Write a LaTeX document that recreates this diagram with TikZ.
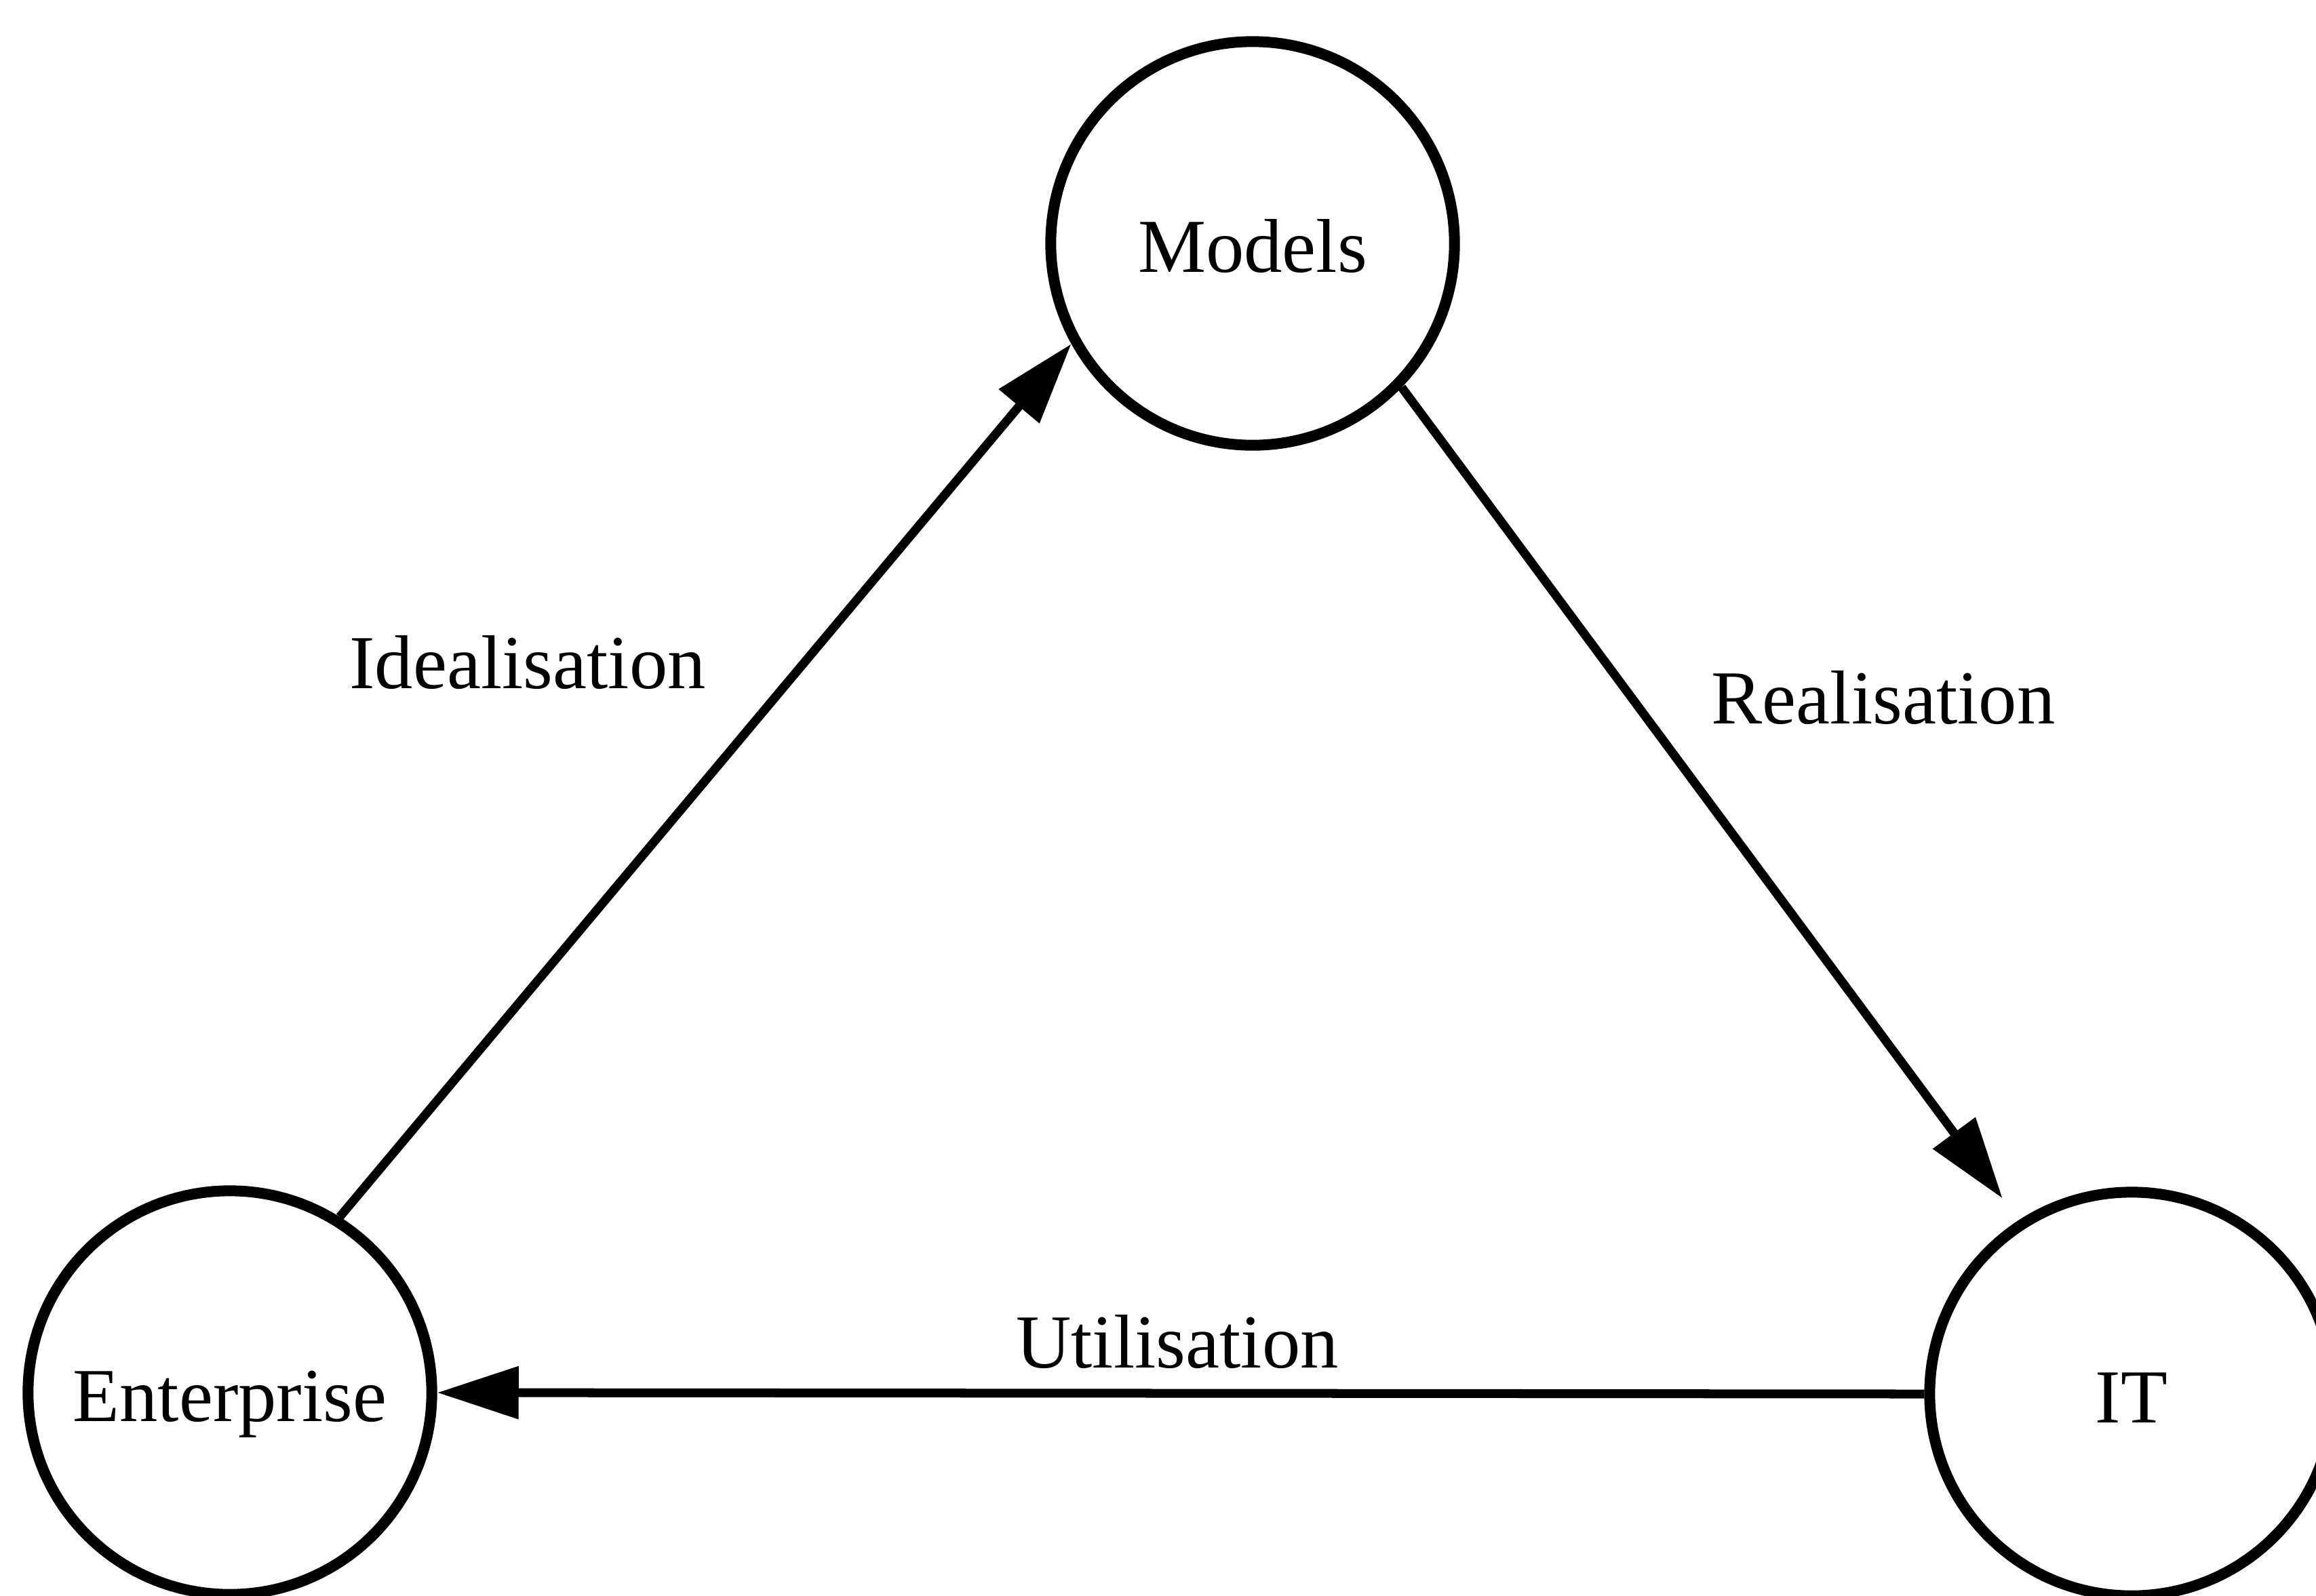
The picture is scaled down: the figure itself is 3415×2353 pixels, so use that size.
\documentclass[tikz,border=0pt]{standalone}
\usepackage{fontspec}
\setmainfont{Liberation Serif}
\usetikzlibrary{arrows.meta}
\begin{document}
\begin{tikzpicture}[x=0.01cm,y=-0.01cm,
  stage/.style={circle,draw,line width=1.6mm,minimum size=5.95cm,inner sep=0pt,
    text height=0.85cm,text depth=0pt,font=\fontsize{32}{38}\selectfont},
  flow/.style={line width=1.3mm,-{Triangle[length=1.2cm,width=0.75cm]}},
  flowlabel/.style={anchor=base,font=\fontsize{32}{38}\selectfont}]
\clip (0,0) rectangle (3415,2353);
\fill[white] (0,0) rectangle (3415,2353);
% the three stages of the cycle
\node[stage] (models) at (1847,359) {Models};
\node[stage] (ent) at (339,2054) {Enterprise};
\node[stage] (it) at (3143,2056) {IT};
% transitions between the stages
\draw[flow] (ent.58) -- (models.209);
\draw[flow,shorten >=0.4cm] (models.-44) -- (it.123);
\draw[flow] (it.west) -- (ent.east);
% transition names
\node[flowlabel] (ideal) at (778,1015) {Idealisation};
\node[flowlabel] (real) at (2777,1067) {Realisation};
\node[flowlabel] (util) at (1736,2017) {Utilisation};
\end{tikzpicture}
\end{document}
